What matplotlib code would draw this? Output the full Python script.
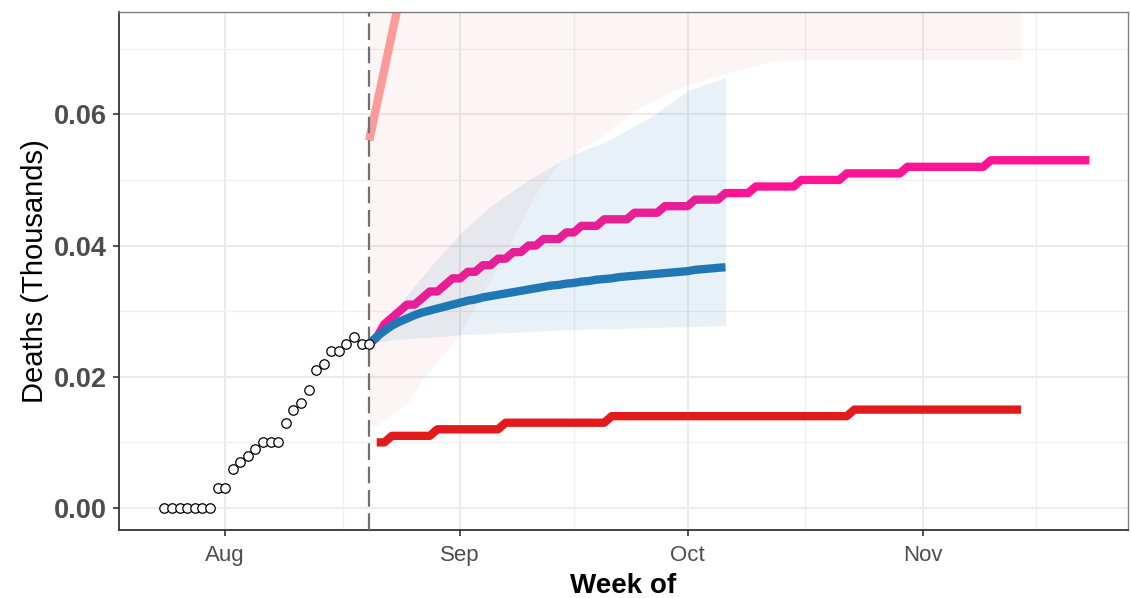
import matplotlib
matplotlib.use("Agg")
import matplotlib.pyplot as plt
import numpy as np
import pandas as pd

plt.rcParams['font.family'] = ['Liberation Sans', 'DejaVu Sans']

# day offsets are counted from Aug 1 2020
base = pd.Timestamp('2020-08-01')

# observed cumulative deaths (thousands), one per day from Jul 24
obs_days = np.arange(-8, 20)
obs_vals = [0.000, 0.000, 0.000, 0.000, 0.000, 0.000, 0.000, 0.003, 0.003, 0.006,
            0.007, 0.008, 0.009, 0.010, 0.010, 0.010, 0.013, 0.015, 0.016, 0.018,
            0.021, 0.022, 0.024, 0.024, 0.025, 0.026, 0.025, 0.025]

# pink projection (deaths), daily from Aug 20
pink_days = np.arange(19, 115)
pink_deaths = [25, 26, 28, 29, 30, 31, 31, 32, 33, 33, 34, 35, 35, 36, 36, 37, 37, 38, 38, 39,
               39, 40, 40, 41, 41, 41, 42, 42, 43, 43, 43, 44, 44, 44, 44,
               45, 45, 45, 45, 46, 46, 46, 46, 47, 47, 47, 47, 48, 48, 48, 48,
               49, 49, 49, 49, 49, 49, 50, 50, 50, 50, 50, 50,
               51, 51, 51, 51, 51, 51, 51, 51,
               52, 52, 52, 52, 52, 52, 52, 52, 52, 52, 52,
               53, 53, 53, 53, 53, 53, 53, 53, 53, 53, 53, 53, 53, 53]

# red projection (deaths), daily from Aug 21
red_days = np.arange(20, 106)
red_deaths = ([10] * 2 + [11] * 6 + [12] * 9 + [13] * 14 + [14] * 32 + [15] * 23)

# blue projection (thousands), daily from Aug 20 to Oct 6
blue_days = np.arange(19, 67)
blue_vals = [0.0250, 0.0261, 0.0270, 0.0278, 0.0284, 0.0289, 0.0294, 0.0298, 0.0301, 0.0304,
             0.0307, 0.0310, 0.0313, 0.0316, 0.0318, 0.0321, 0.0323, 0.0325, 0.0327, 0.0329,
             0.0331, 0.0333, 0.0335, 0.0337, 0.0339, 0.0340, 0.0342, 0.0343, 0.0345, 0.0346,
             0.0348, 0.0349, 0.0350, 0.0352, 0.0353, 0.0354, 0.0355, 0.0356, 0.0357, 0.0358,
             0.0359, 0.0360, 0.0361, 0.0363, 0.0364, 0.0365, 0.0366, 0.0367]

# blue interval
bband_days = [19, 22, 25, 28, 31, 35, 40, 46, 50, 56, 59, 61, 66]
bband_lo = [0.0250, 0.0256, 0.0259, 0.0261, 0.0264, 0.0266, 0.0269, 0.0272, 0.0273, 0.0275, 0.0276, 0.0276, 0.0278]
bband_hi = [0.0250, 0.0297, 0.0339, 0.0380, 0.0418, 0.0460, 0.0500, 0.0540, 0.0557, 0.0595, 0.0620, 0.0636, 0.0656]

# red interval (upper edge is off the top of the chart)
rband_days = [19, 20, 24, 26, 31, 37, 41, 44, 47, 49, 54, 58, 61, 66, 72, 76, 105]
rband_lo = [0.0126, 0.0126, 0.0160, 0.0195, 0.0266, 0.0390, 0.0480, 0.0525, 0.0550, 0.0560,
            0.0605, 0.0630, 0.0645, 0.0662, 0.0681, 0.0683, 0.0683]
rband_hi = [0.10] * len(rband_days)

# salmon projection (thousands), leaves the chart after a few days
salmon_days = [19, 20, 21, 22, 23, 24]
salmon_vals = [0.0560, 0.0614, 0.0668, 0.0722, 0.0776, 0.0830]

cutoff_day = 19


def to_dates(days):
    return [base + pd.Timedelta(days=float(d)) for d in days]


fig = plt.figure(figsize=(11.31, 5.98), dpi=100)
ax = fig.add_axes([0.1052, 0.1137, 0.8921, 0.8662])

ax.fill_between(to_dates(rband_days), rband_lo, rband_hi, color='#E31A1C', alpha=0.045, lw=0, zorder=1)
ax.plot(to_dates(salmon_days), salmon_vals, color='#FB9A99', lw=6, solid_capstyle='butt', zorder=2)
ax.plot(to_dates(pink_days), np.array(pink_deaths) / 1000, color='#FF1493', lw=6,
        solid_capstyle='butt', zorder=3)
ax.fill_between(to_dates(bband_days), bband_lo, bband_hi, color='#1F78B4', alpha=0.1, lw=0, zorder=4)
ax.plot(to_dates(blue_days), blue_vals, color='#1F78B4', lw=6, solid_capstyle='butt', zorder=5)
ax.plot(to_dates(red_days), np.array(red_deaths) / 1000, color='#E31A1C', lw=6,
        solid_capstyle='butt', zorder=5)
ax.axvline(base + pd.Timedelta(days=cutoff_day), color='#707070', lw=1.6,
           ls=(0, (7.5, 3)), zorder=6)
ax.plot(to_dates(obs_days), obs_vals, ls='none', marker='o', ms=6.8, mfc='white',
        mec='black', mew=0.9, zorder=7)

ax.set_xlim(pd.Timestamp('2020-07-18'), pd.Timestamp('2020-11-28 02:00'))
ax.set_ylim(-0.00335, 0.07559)

ax.set_yticks([0.00, 0.02, 0.04, 0.06])
ax.set_yticklabels(['0.00', '0.02', '0.04', '0.06'])
ax.set_yticks([0.01, 0.03, 0.05, 0.07], minor=True)
ax.set_xticks(to_dates([0, 31, 61, 92]))
ax.set_xticklabels(['Aug', 'Sep', 'Oct', 'Nov'])
ax.set_xticks(to_dates([15.5, 46, 76.5, 107]), minor=True)

ax.grid(which='major', color='#EBEBEB', lw=1.4)
ax.grid(which='minor', color='#EFEFEF', lw=0.9)
ax.set_axisbelow(True)

ax.tick_params(which='major', length=4.5, width=1.2, color='#333333', labelcolor='#4D4D4D')
ax.tick_params(which='minor', length=0)
ax.tick_params(axis='y', labelsize=19.5, pad=4)
ax.tick_params(axis='x', labelsize=16, pad=6)
for lab in ax.get_yticklabels():
    lab.set_fontweight('bold')

for s in ['left', 'bottom']:
    ax.spines[s].set_color('#333333')
    ax.spines[s].set_linewidth(1.3)
for s in ['top', 'right']:
    ax.spines[s].set_color('#7F7F7F')
    ax.spines[s].set_linewidth(1.0)

ax.set_ylabel('Deaths (Thousands)', fontsize=21, labelpad=4)
ax.set_xlabel('Week of', fontsize=20, fontweight='bold', labelpad=5)

fig.savefig('out.png', dpi=100)
